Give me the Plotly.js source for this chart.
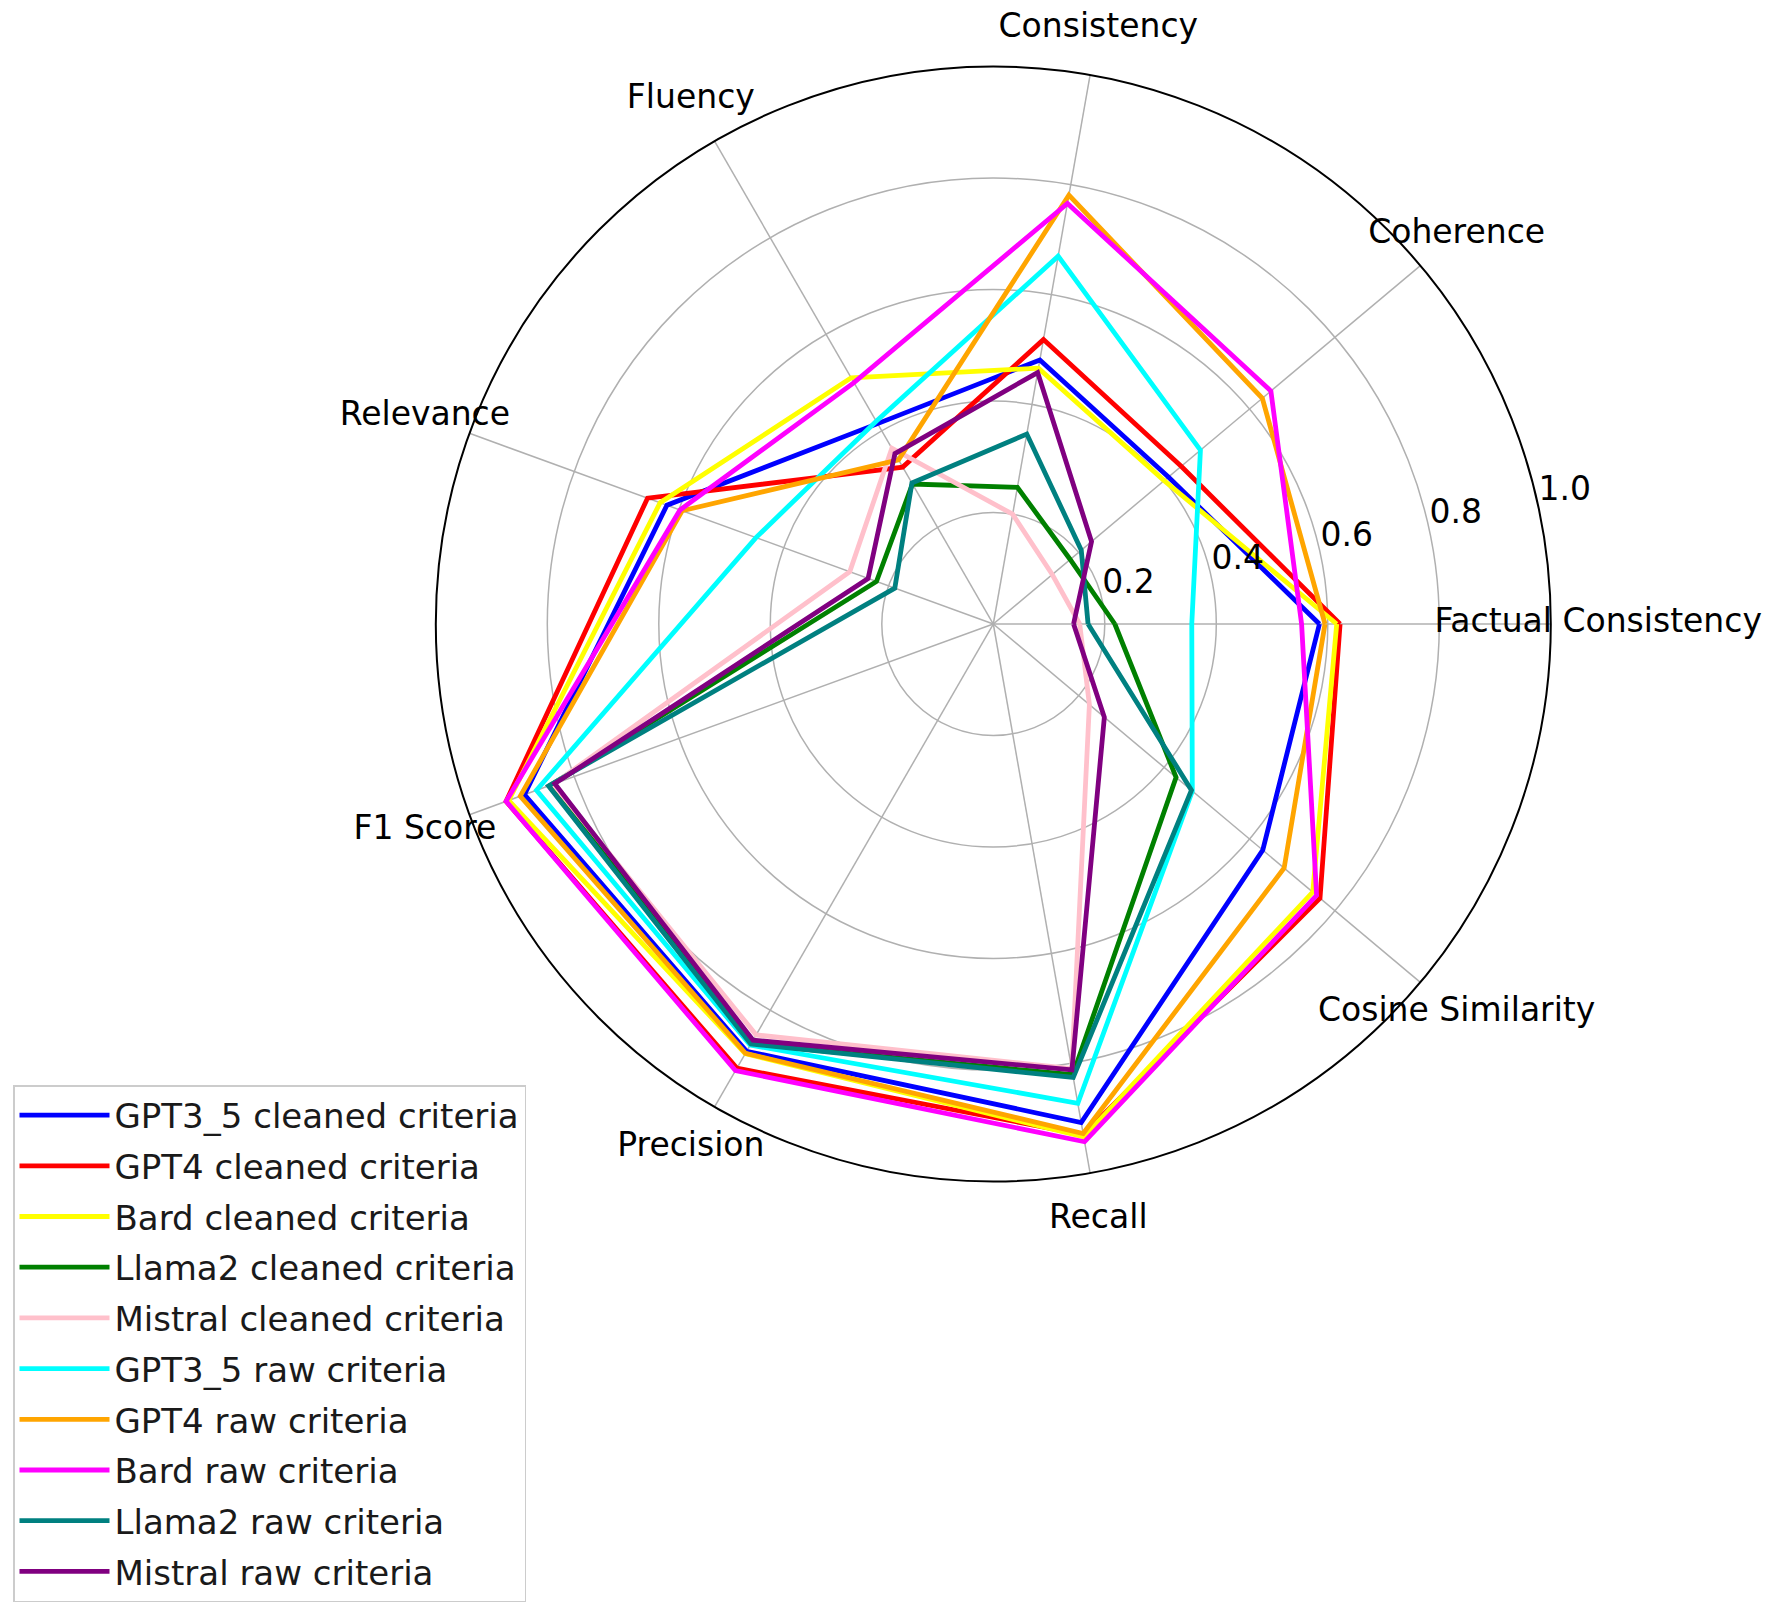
<!DOCTYPE html>
<html>
<head>
<meta charset="utf-8">
<script src="https://cdn.plot.ly/plotly-3.0.1.min.js"></script>
<style>
  html, body { margin: 0; padding: 0; background: #ffffff; }
  #chart { width: 1776px; height: 1619px; }
</style>
</head>
<body>
<div id="chart"></div>
<script>
// ---- data ----
const categories = ['Factual Consistency', 'Coherence', 'Consistency', 'Fluency', 'Relevance',
                    'F1 Score', 'Precision', 'Recall', 'Cosine Similarity'];

const gpt35Cleaned   = [0.585, 0.41, 0.481, 0.415, 0.623, 0.895, 0.885, 0.908, 0.631];
const gpt4Cleaned    = [0.622, 0.44, 0.518, 0.325, 0.660, 0.930, 0.920, 0.930, 0.765];
const bardCleaned    = [0.616, 0.40, 0.466, 0.510, 0.636, 0.925, 0.890, 0.934, 0.748];
const llama2Cleaned  = [0.218, 0.18, 0.249, 0.290, 0.223, 0.845, 0.870, 0.821, 0.428];
const mistralCleaned = [0.155, 0.138, 0.200, 0.364, 0.274, 0.840, 0.851, 0.810, 0.225];
const gpt35Raw       = [0.356, 0.485, 0.670, 0.420, 0.453, 0.872, 0.872, 0.873, 0.466];
const gpt4Raw        = [0.595, 0.630, 0.781, 0.340, 0.594, 0.903, 0.889, 0.928, 0.681];
const bardRaw        = [0.553, 0.650, 0.766, 0.500, 0.598, 0.930, 0.925, 0.943, 0.757];
const llama2Raw      = [0.170, 0.206, 0.346, 0.292, 0.188, 0.849, 0.870, 0.826, 0.464];
const mistralRaw     = [0.144, 0.230, 0.458, 0.353, 0.239, 0.837, 0.862, 0.812, 0.260];

const seriesNames = ['GPT3_5 cleaned criteria', 'GPT4 cleaned criteria', 'Bard cleaned criteria',
                     'Llama2 cleaned criteria', 'Mistral cleaned criteria', 'GPT3_5 raw criteria',
                     'GPT4 raw criteria', 'Bard raw criteria', 'Llama2 raw criteria', 'Mistral raw criteria'];
const seriesValues = [gpt35Cleaned, gpt4Cleaned, bardCleaned, llama2Cleaned, mistralCleaned,
                      gpt35Raw, gpt4Raw, bardRaw, llama2Raw, mistralRaw];
const seriesColors = ['#0000ff', '#ff0000', '#ffff00', '#008000', '#ffc0cb',
                      '#00ffff', '#ffa500', '#ff00ff', '#008080', '#800080'];

const radialTicks = [0.2, 0.4, 0.6, 0.8, 1.0];
const radialTickLabels = ['0.2', '0.4', '0.6', '0.8', '1.0'];

// ---- layout constants ----
const FONT = 'DejaVu Sans, sans-serif';
const FS = 32;
const step = 360 / categories.length;
const catAngles = categories.map((c, i) => i * step);
const LABEL_R = 1.085;
const LABEL_RANGE = 1.1;
const RLABEL_ANGLE = 12;

const traces = [];
seriesValues.forEach((vals, k) => {
  traces.push({
    type: 'scatterpolar',
    mode: 'lines',
    r: vals.concat([vals[0]]),
    theta: catAngles.concat([catAngles[0]]),
    name: seriesNames[k],
    legendgroup: 'g' + k,
    line: { color: seriesColors[k], width: 4.8 },
    hoverinfo: 'skip'
  });
});

// category labels, centred just outside the outer circle (on a larger overlay polar)
traces.push({
  type: 'scatterpolar',
  subplot: 'polar2',
  mode: 'text',
  r: categories.map(() => LABEL_R),
  theta: catAngles,
  text: categories,
  textposition: 'middle center',
  textfont: { family: FONT, size: 33, color: '#000000' },
  cliponaxis: false,
  showlegend: false,
  hoverinfo: 'skip'
});

// radial tick labels
traces.push({
  type: 'scatterpolar',
  mode: 'text',
  r: radialTicks,
  theta: radialTicks.map(() => RLABEL_ANGLE),
  text: radialTickLabels,
  textposition: 'top right',
  textfont: { family: FONT, size: 33, color: '#000000' },
  cliponaxis: false,
  showlegend: false,
  hoverinfo: 'skip'
});

const W = 1776, H = 1619;
const cx = 993.3, cy = 624, R = 557.5;
const R2 = R * LABEL_RANGE;

const hiddenAxis = {
  showticklabels: false, ticks: '', showgrid: false, showline: false
};

const layout = {
  width: W,
  height: H,
  margin: { l: 0, r: 0, t: 0, b: 0 },
  paper_bgcolor: '#ffffff',
  font: { family: FONT, size: FS, color: '#000000' },
  showlegend: true,
  legend: {
    x: 13 / W,
    y: 1 - 1085 / H,
    xanchor: 'left',
    yanchor: 'top',
    bgcolor: '#ffffff',
    bordercolor: '#cccccc',
    borderwidth: 1.5,
    font: { family: FONT, size: 34, color: '#1a1a1a' },
    itemwidth: 90,
    tracegroupgap: 3.5
  },
  polar: {
    domain: {
      x: [(cx - R) / W, (cx + R) / W],
      y: [1 - (cy + R) / H, 1 - (cy - R) / H]
    },
    bgcolor: '#ffffff',
    angularaxis: {
      type: 'linear',
      thetaunit: 'degrees',
      rotation: 0,
      direction: 'counterclockwise',
      tickmode: 'array',
      tickvals: catAngles,
      showticklabels: false,
      ticks: '',
      showgrid: true,
      gridcolor: '#b0b0b0',
      gridwidth: 1.5,
      showline: true,
      linecolor: '#000000',
      linewidth: 2
    },
    radialaxis: {
      range: [0, 1],
      tickmode: 'array',
      tickvals: radialTicks,
      showticklabels: false,
      ticks: '',
      showline: false,
      showgrid: true,
      gridcolor: '#b0b0b0',
      gridwidth: 1.5,
      angle: 0
    }
  },
  polar2: {
    domain: {
      x: [(cx - R2) / W, (cx + R2) / W],
      y: [1 - (cy + R2) / H, 1 - (cy - R2) / H]
    },
    bgcolor: 'rgba(0,0,0,0)',
    angularaxis: Object.assign({
      type: 'linear', thetaunit: 'degrees', rotation: 0, direction: 'counterclockwise'
    }, hiddenAxis),
    radialaxis: Object.assign({ range: [0, LABEL_RANGE] }, hiddenAxis)
  }
};

Plotly.newPlot('chart', traces, layout, { displayModeBar: false, staticPlot: true });
</script>
</body>
</html>
